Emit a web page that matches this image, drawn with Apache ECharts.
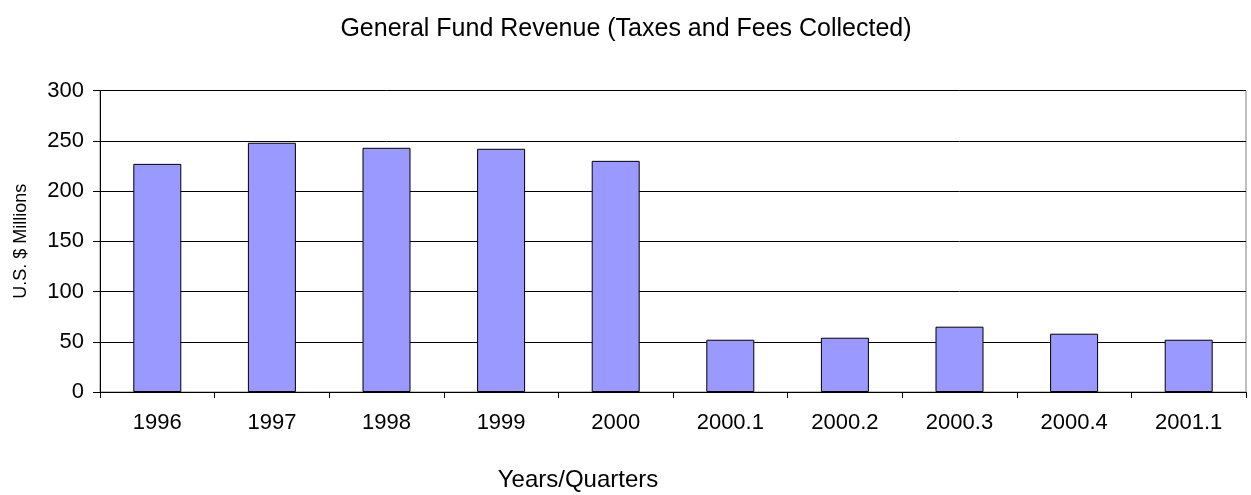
<!DOCTYPE html>
<html>
<head>
<meta charset="utf-8">
<script src="https://cdn.jsdelivr.net/npm/echarts@6/dist/echarts.min.js"></script>
<style>html,body{margin:0;padding:0;background:#fff}#c{width:1251px;height:495px}</style>
</head>
<body>
<div id="c"></div>
<script>
var categories = ['1996','1997','1998','1999','2000','2000.1','2000.2','2000.3','2000.4','2001.1'];
var revenue = [227, 248, 243, 242, 230, 52, 54, 65, 58, 52];
var titleText = 'General Fund Revenue (Taxes and Fees Collected)';
var xName = 'Years/Quarters';
var yName = 'U.S. $ Millions';

var FONT = '"Liberation Sans", Arial, sans-serif';
var chart = echarts.init(document.getElementById('c'), null, {renderer: 'canvas'});
chart.setOption({
  animation: false,
  backgroundColor: '#fff',
  grid: {
    left: 100, right: 5, top: 90.5, bottom: 103,
    show: true, borderColor: '#808080', borderWidth: 1, backgroundColor: 'transparent'
  },
  graphic: [{
    type: 'text',
    x: 626, y: 29,
    style: {text: titleText, font: '25px ' + FONT, fill: '#000', textAlign: 'center', textVerticalAlign: 'middle'}
  }, {
    type: 'text',
    x: 578, y: 480,
    style: {text: xName, font: '24px ' + FONT, fill: '#000', textAlign: 'center', textVerticalAlign: 'middle'}
  }],
  xAxis: {
    type: 'category',
    data: categories,
    axisLine: {lineStyle: {color: '#000', width: 1}},
    axisTick: {show: true, length: 6, lineStyle: {color: '#000'}},
    axisLabel: {fontFamily: FONT, fontSize: 22, color: '#000', margin: 20, interval: 0},
    splitLine: {show: false}
  },
  yAxis: {
    type: 'value',
    min: 0, max: 300, interval: 50,
    name: yName,
    nameLocation: 'middle',
    nameGap: 70,
    nameTextStyle: {fontFamily: FONT, fontSize: 18, color: '#000'},
    axisLine: {show: true, lineStyle: {color: '#000', width: 1}},
    axisTick: {show: true, length: 7, lineStyle: {color: '#000'}},
    axisLabel: {fontFamily: FONT, fontSize: 22, color: '#000', margin: 16},
    splitLine: {show: true, lineStyle: {color: '#000', width: 1}}
  },
  series: [{
    type: 'bar',
    data: revenue,
    barWidth: 48,
    itemStyle: {color: '#9999FF', borderColor: '#000', borderWidth: 1}
  }]
});
</script>
</body>
</html>
